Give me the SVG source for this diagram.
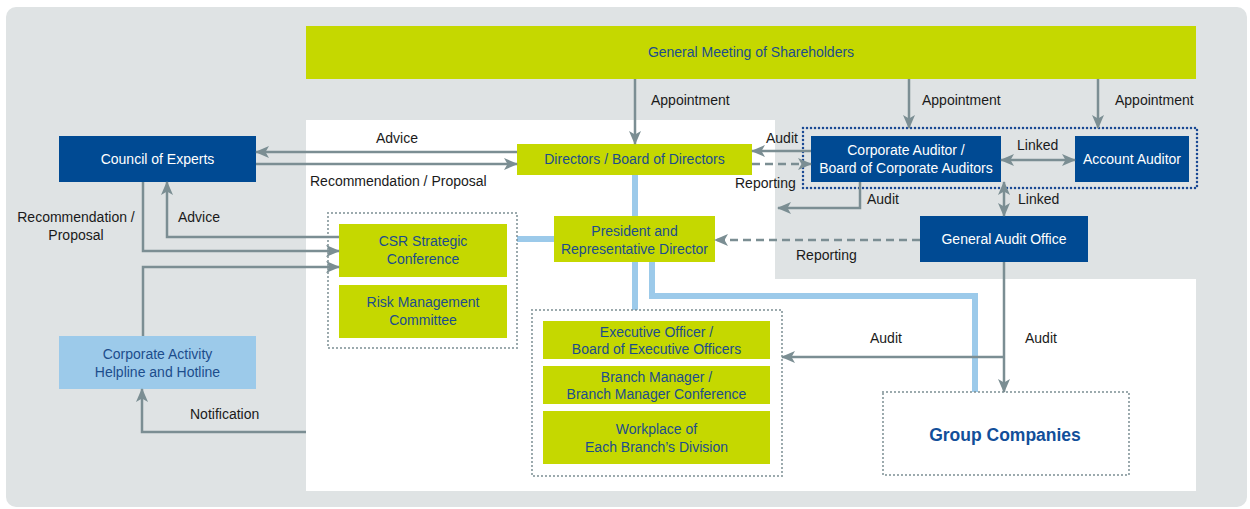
<svg xmlns="http://www.w3.org/2000/svg" width="1250" height="509" viewBox="0 0 1250 509">
  <defs>
    <marker id="arrow" viewBox="0 0 14 12" markerWidth="14" markerHeight="12" refX="13" refY="6" orient="auto-start-reverse" markerUnits="userSpaceOnUse">
      <path d="M0,0 L14,6 L0,12 L3.5,6 Z" fill="#7b8e93"/>
    </marker>
    <style>
      text { font-family: "Liberation Sans Narrow", "Liberation Sans", Arial, sans-serif; font-size: 14px; }
      .green { fill: #c5d800; }
      .navy { fill: #004a93; }
      .sky { fill: #9ccaea; }
      .t-navy { fill: #1c4d8c; text-anchor: middle; }
      .t-white { fill: #ffffff; text-anchor: middle; }
      .label { fill: #1a1a1a; }
      .conn { fill: none; stroke: #7b8e93; stroke-width: 2.5; }
      .dash { stroke-dasharray: 8 5; }
      .org { fill: none; stroke: #9ccaea; stroke-width: 6; }
      .dots { fill: none; stroke: #7b8e93; stroke-width: 2; stroke-dasharray: 0 4; stroke-linecap: round; }
      .dots-blue { fill: none; stroke: #1a4a94; stroke-width: 2.5; stroke-dasharray: 0 4; stroke-linecap: round; }
    </style>
  </defs>

  <!-- backdrop -->
  <rect x="6" y="7" width="1241" height="500" rx="10" fill="#dfe3e4"/>
  <path d="M306,120 H775 V279 H1196 V491 H306 Z" fill="#ffffff"/>

  <!-- organisation lines -->
  <g id="org-lines">
    <path class="org" d="M635,175 V216"/>
    <path class="org" d="M635,262 V310"/>
    <path class="org" d="M517,239 H554"/>
    <path class="org" d="M652,262 V296 H975 V392"/>
  </g>

  <!-- group frames -->
  <rect id="csr-group" class="dots" x="328" y="213" width="189" height="135"/>
  <rect id="exec-group" class="dots" x="532" y="310" width="250" height="166"/>
  <rect id="auditor-group" class="dots-blue" x="803" y="128" width="394" height="60"/>

  <g id="shareholders">
    <rect class="green" x="306" y="26" width="890" height="53"/>
    <text class="t-navy" x="751" y="57">General Meeting of Shareholders</text>
  </g>

  <g id="council">
    <rect class="navy" x="59" y="136" width="197" height="46"/>
    <text class="t-white" x="157.5" y="164">Council of Experts</text>
  </g>

  <g id="directors">
    <rect class="green" x="517" y="144" width="235" height="31"/>
    <text class="t-navy" x="634.5" y="164">Directors / Board of Directors</text>
  </g>

  <g id="president">
    <rect class="green" x="554" y="216" width="161" height="46"/>
    <text class="t-navy" x="634.5" y="236">President and</text>
    <text class="t-navy" x="634.5" y="254">Representative Director</text>
  </g>

  <g id="csr">
    <rect class="green" x="339" y="224" width="168" height="53"/>
    <text class="t-navy" x="423" y="246">CSR Strategic</text>
    <text class="t-navy" x="423" y="264">Conference</text>
  </g>

  <g id="risk">
    <rect class="green" x="339" y="285" width="168" height="53"/>
    <text class="t-navy" x="423" y="307">Risk Management</text>
    <text class="t-navy" x="423" y="325">Committee</text>
  </g>

  <g id="executive">
    <rect class="green" x="543" y="321" width="227" height="38"/>
    <text class="t-navy" x="656.5" y="337">Executive Officer /</text>
    <text class="t-navy" x="656.5" y="354">Board of Executive Officers</text>
  </g>

  <g id="branch">
    <rect class="green" x="543" y="366" width="227" height="38"/>
    <text class="t-navy" x="656.5" y="382">Branch Manager /</text>
    <text class="t-navy" x="656.5" y="399">Branch Manager Conference</text>
  </g>

  <g id="workplace">
    <rect class="green" x="543" y="411" width="227" height="53"/>
    <text class="t-navy" x="656.5" y="434">Workplace of</text>
    <text class="t-navy" x="656.5" y="452">Each Branch’s Division</text>
  </g>

  <g id="corporate-auditor">
    <rect class="navy" x="811" y="136" width="190" height="46"/>
    <text class="t-white" x="906" y="155">Corporate Auditor /</text>
    <text class="t-white" x="906" y="173">Board of Corporate Auditors</text>
  </g>

  <g id="account-auditor">
    <rect class="navy" x="1075" y="136" width="114" height="46"/>
    <text class="t-white" x="1132" y="164">Account Auditor</text>
  </g>

  <g id="audit-office">
    <rect class="navy" x="920" y="216" width="168" height="46"/>
    <text class="t-white" x="1004" y="244">General Audit Office</text>
  </g>

  <g id="helpline">
    <rect class="sky" x="59" y="336" width="197" height="53"/>
    <text class="t-navy" x="157.5" y="359">Corporate Activity</text>
    <text class="t-navy" x="157.5" y="377">Helpline and Hotline</text>
  </g>

  <g id="group-companies">
    <rect class="dots" x="883" y="392" width="246" height="83" fill="#ffffff"/>
    <text class="t-navy" x="1005" y="441" style="font-size:17.5px;font-weight:bold;fill:#124f9a">Group Companies</text>
  </g>

  <!-- connectors -->
  <g id="connectors">
    <path class="conn" d="M635,79 V144" marker-end="url(#arrow)"/>
    <path class="conn" d="M909,79 V128" marker-end="url(#arrow)"/>
    <path class="conn" d="M1098,79 V128" marker-end="url(#arrow)"/>
    <path class="conn" d="M517,152 H256" marker-end="url(#arrow)"/>
    <path class="conn" d="M256,164 H517" marker-end="url(#arrow)"/>
    <path class="conn" d="M811,151 H752" marker-end="url(#arrow)"/>
    <path class="conn dash" d="M752,164 H811" marker-end="url(#arrow)"/>
    <path class="conn" d="M860,182 V208 H778" marker-end="url(#arrow)"/>
    <path class="conn" d="M1001,160 H1075" marker-start="url(#arrow)" marker-end="url(#arrow)"/>
    <path class="conn" d="M1004,182 V216" marker-start="url(#arrow)" marker-end="url(#arrow)"/>
    <path class="conn dash" d="M920,240 H715" marker-end="url(#arrow)"/>
    <path class="conn" d="M1004,262 V392" marker-end="url(#arrow)"/>
    <path class="conn" d="M1004,357 H782" marker-end="url(#arrow)"/>
    <path class="conn" d="M143,182 V251 H339" marker-end="url(#arrow)"/>
    <path class="conn" d="M339,237 H167 V182" marker-end="url(#arrow)"/>
    <path class="conn" d="M143,336 V267 H339" marker-end="url(#arrow)"/>
    <path class="conn" d="M306,432 H142 V389" marker-end="url(#arrow)"/>
  </g>

  <!-- connector labels -->
  <g id="labels">
    <text class="label" x="651" y="105">Appointment</text>
    <text class="label" x="922" y="105">Appointment</text>
    <text class="label" x="1115" y="105">Appointment</text>
    <text class="label" x="397" y="143" text-anchor="middle">Advice</text>
    <text class="label" x="310" y="186">Recommendation / Proposal</text>
    <text class="label" x="766" y="143">Audit</text>
    <text class="label" x="735" y="188">Reporting</text>
    <text class="label" x="867" y="204">Audit</text>
    <text class="label" x="1017" y="150">Linked</text>
    <text class="label" x="1018" y="204">Linked</text>
    <text class="label" x="796" y="260">Reporting</text>
    <text class="label" x="870" y="343">Audit</text>
    <text class="label" x="1025" y="343">Audit</text>
    <text class="label" x="76" y="222" text-anchor="middle">Recommendation /</text>
    <text class="label" x="76" y="240" text-anchor="middle">Proposal</text>
    <text class="label" x="178" y="222">Advice</text>
    <text class="label" x="190" y="419">Notification</text>
  </g>
</svg>
